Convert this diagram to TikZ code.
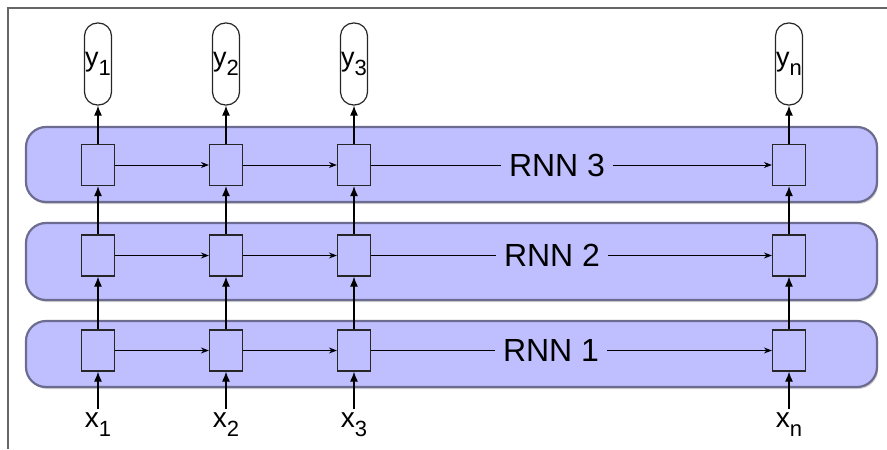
\documentclass[tikz,border=0pt]{standalone}
\usepackage{fontspec}
\setmainfont{Liberation Sans}
\usetikzlibrary{arrows.meta,shadows}

\definecolor{bandfill}{RGB}{191,191,255}
\definecolor{bandline}{RGB}{108,108,145}
\newcommand{\sublbl}[2]{#1\raisebox{-4.7pt}{\fontsize{11}{12}\selectfont #2}}

\begin{document}
\begin{tikzpicture}[x=0.5pt,y=-0.5pt,
    band/.style={draw=bandline,line width=1.1pt,fill=bandfill,rounded corners=10pt,
      drop shadow={opacity=0.35,shadow xshift=0.6pt,shadow yshift=-1pt}},
    cell/.style={draw=black!85,fill=bandfill,line width=0.6pt,inner sep=0pt,
      minimum width=16.5pt,minimum height=20.5pt},
    outbox/.style={draw=black!85,fill=white,line width=0.6pt,rounded corners=6.5pt,inner sep=0pt,
      minimum width=13.5pt,minimum height=41pt,font=\fontsize{13.5}{15}\selectfont},
    inlbl/.style={inner sep=1.5pt,anchor=north,font=\fontsize{14}{16}\selectfont},
    rnn/.style={inner xsep=4pt,font=\fontsize{16}{18}\selectfont},
    up/.style={-{Latex[length=5pt,width=4pt]},line width=0.6pt},
    fwd/.style={-{Stealth[length=4pt,width=3pt]},line width=0.5pt}]
  \useasboundingbox (0,0) rectangle (887,449);
  \draw[black!60,line width=0.6pt] (8,449) -- (8,8) -- (887,8);

  % the three layers
  \draw[band] (26,321) rectangle (877,387);
  \draw[band] (26,223) rectangle (877,300);
  \draw[band] (26,127) rectangle (877,202);

  \foreach \c/\x in {1/98,2/226,3/354,n/789}{
    \node[cell] (h1-\c) at (\x,350.5) {};
    \node[cell] (h2-\c) at (\x,255.5) {};
    \node[cell] (h3-\c) at (\x,165) {};
    \node[inlbl] (x\c) at (\x,409) {\sublbl{x}{\c}};
    \node[outbox] (y\c) at (\x,64) {\sublbl{y}{\c}};
    \draw[up] (x\c.north) -- (h1-\c);
    \draw[up] (h1-\c) -- (h2-\c);
    \draw[up] (h2-\c) -- (h3-\c);
    \draw[up] (h3-\c) -- (y\c);
  }

  \node[rnn] (rnn1) at (551,350.5) {RNN 1};
  \node[rnn] (rnn2) at (552,255.5) {RNN 2};
  \node[rnn] (rnn3) at (557,165) {RNN 3};

  \foreach \l in {1,2,3}{
    \draw[fwd] (h\l-1) -- (h\l-2);
    \draw[fwd] (h\l-2) -- (h\l-3);
    \draw (h\l-3) -- (rnn\l);
    \draw[fwd] (rnn\l) -- (h\l-n);
  }
\end{tikzpicture}
\end{document}
